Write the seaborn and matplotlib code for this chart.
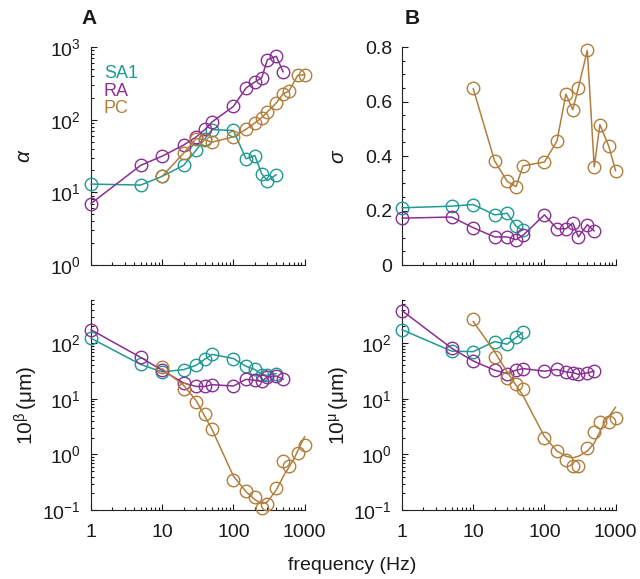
import numpy as np
import matplotlib
matplotlib.use("Agg")
import matplotlib.pyplot as plt
import matplotlib.ticker as mticker
import seaborn as sns
import pandas as pd

# frequencies (Hz) for each afferent class
freq_sa1 = [1, 5, 10, 20, 30, 40, 50, 100, 150, 200, 250, 300, 400]
freq_sa1_b = [1, 5, 10, 20, 30, 40, 50]
freq_ra = [1, 5, 10, 20, 30, 40, 50, 100, 150, 200, 250, 300, 400, 500]
freq_pc = [10, 20, 30, 40, 50, 100, 150, 200, 250, 300, 400, 500, 600, 800, 1000]

# alpha (panel A, top)
alpha_sa1 = [13, 12.6, 16.6, 23.5, 38, 55, 73, 71, 29, 32, 18, 14.5, 17.5]
alpha_ra = [7.0, 23.5, 31.5, 44.7, 57.8, 73.5, 93, 152, 272, 330, 378, 670, 745, 453]
alpha_pc = [16.6, 34.6, 55, 53, 49, 58, 73.6, 90, 107, 128, 170, 228, 245, 408, 415]

# 10^beta (panel A, bottom)
beta_sa1 = [123, 41.5, 30.5, 33.5, 40, 52, 63, 53, 38.6, 33.7, 27.3, 26.5, 28.5]
beta_ra = [175, 55.6, 32.7, 19.3, 16.7, 16.7, 18, 17, 22.4, 21.5, 20.6, 24.8, 25.8, 22.4]
beta_pc = [36.6, 15.2, 8.7, 5.3, 2.85, 0.35, 0.22, 0.175, 0.107, 0.13, 0.25, 0.76, 0.62, 1.07, 1.46]
fit_freq_a = [10, 20, 30, 50, 100, 150, 200, 250, 300, 400, 500, 700, 1000]
beta_pc_fit = [35, 17.5, 9.3, 2.85, 0.41, 0.215, 0.155, 0.13, 0.14, 0.23, 0.4, 0.81, 2.1]

# sigma (panel B, top)
sigma_sa1 = [0.210, 0.216, 0.222, 0.184, 0.190, 0.142, 0.127]
sigma_ra = [0.172, 0.176, 0.137, 0.103, 0.103, 0.093, 0.109, 0.184, 0.133, 0.133, 0.154, 0.103, 0.148, 0.125]
sigma_pc = [0.648, 0.382, 0.307, 0.288, 0.364, 0.378, 0.455, 0.627, 0.570, 0.651, 0.788, 0.360, 0.515, 0.436, 0.345]

# 10^mu (panel B, bottom)
mu_sa1 = [175, 72, 70.5, 107, 96, 127, 156]
mu_ra = [386, 81, 48, 32.7, 28.5, 32.7, 35, 31.4, 33.7, 30.5, 29.7, 27.6, 29.3, 31.4]
mu_pc = [277, 55.6, 23.8, 18.7, 15.2, 2.0, 1.15, 0.81, 0.63, 0.61, 1.32, 2.54, 3.77, 3.86, 4.6]
fit_freq_b = [10, 20, 30, 50, 100, 150, 200, 250, 300, 400, 500, 700, 1000]
mu_pc_fit = [247, 70, 30.5, 11.5, 2.1, 1.15, 0.93, 0.87, 0.93, 1.15, 1.6, 3.8, 7.1]

classes = ["SA1", "RA", "PC"]
colors = {"SA1": "#1f9a94", "RA": "#8a2f94", "PC": "#b27e3b"}

sns.set_theme(style="ticks")
plt.rcParams["font.family"] = ["Liberation Sans", "DejaVu Sans"]
plt.rcParams["mathtext.fontset"] = "custom"
plt.rcParams["mathtext.rm"] = "Liberation Sans"
plt.rcParams["mathtext.it"] = "Liberation Sans:italic"
plt.rcParams["mathtext.bf"] = "Liberation Sans:bold"
plt.rcParams["text.color"] = "#1a1a1a"
plt.rcParams["axes.labelcolor"] = "#1a1a1a"
plt.rcParams["xtick.color"] = "#1a1a1a"
plt.rcParams["ytick.color"] = "#1a1a1a"

fig = plt.figure(figsize=(6.4, 5.79), dpi=100)
ax_a1 = fig.add_axes([0.142, 0.5423, 0.334, 0.3765])
ax_a2 = fig.add_axes([0.142, 0.119, 0.334, 0.363])
ax_b1 = fig.add_axes([0.628, 0.5423, 0.334, 0.3765])
ax_b2 = fig.add_axes([0.628, 0.119, 0.334, 0.363])

mk = dict(marker="o", markersize=9, markerfacecolor="none", markeredgewidth=1.0, linewidth=1.1)


def draw(ax, f, v, name, line=True):
    df = pd.DataFrame({"f": f, "v": v})
    c = colors[name]
    sns.lineplot(data=df, x="f", y="v", ax=ax, color=c, markeredgecolor=c,
                 linestyle="-" if line else "none", clip_on=False, zorder=3, **mk)


def draw_fit(ax, f, v):
    df = pd.DataFrame({"f": f, "v": v})
    sns.lineplot(data=df, x="f", y="v", ax=ax, color=colors["PC"], linewidth=1.1,
                 clip_on=False, zorder=3)


draw(ax_a1, freq_sa1, alpha_sa1, "SA1")
draw(ax_a1, freq_ra, alpha_ra, "RA")
draw(ax_a1, freq_pc, alpha_pc, "PC")

draw(ax_a2, freq_sa1, beta_sa1, "SA1")
draw(ax_a2, freq_ra, beta_ra, "RA")
draw(ax_a2, freq_pc, beta_pc, "PC", line=False)
draw_fit(ax_a2, fit_freq_a, beta_pc_fit)

draw(ax_b1, freq_sa1_b, sigma_sa1, "SA1")
draw(ax_b1, freq_ra, sigma_ra, "RA")
draw(ax_b1, freq_pc, sigma_pc, "PC")

draw(ax_b2, freq_sa1_b, mu_sa1, "SA1")
draw(ax_b2, freq_ra, mu_ra, "RA")
draw(ax_b2, freq_pc, mu_pc, "PC", line=False)
draw_fit(ax_b2, fit_freq_b, mu_pc_fit)

for ax in [ax_a1, ax_a2, ax_b1, ax_b2]:
    ax.set_xscale("log")
    ax.set_xlim(1, 1000)
    ax.xaxis.set_major_locator(mticker.FixedLocator([1, 10, 100, 1000]))
    ax.xaxis.set_minor_locator(mticker.LogLocator(base=10, subs=np.arange(2, 10)))
    ax.xaxis.set_major_formatter(mticker.FixedFormatter(["1", "10", "100", "1000"]))
    ax.tick_params(which="both", direction="in", labelsize=14, width=0.8)
    ax.tick_params(which="major", length=4)
    ax.tick_params(which="minor", length=2)
    ax.tick_params(axis="x", which="major", pad=10)
    ax.tick_params(axis="y", which="major", pad=7)
    ax.set_xlabel("")
    ax.set_ylabel("")
    sns.despine(ax=ax)
    for s in ["left", "bottom"]:
        ax.spines[s].set_linewidth(0.8)
        ax.spines[s].set_color("#222222")

for ax in [ax_a1, ax_b1]:
    ax.tick_params(axis="x", labelbottom=False)

ax_a1.set_yscale("log")
ax_a1.set_ylim(1, 1000)
ax_a1.yaxis.set_major_locator(mticker.LogLocator(base=10, numticks=10))
ax_a1.yaxis.set_minor_locator(mticker.LogLocator(base=10, subs=np.arange(2, 10), numticks=10))
ax_a1.set_ylabel(r"$\alpha$", fontsize=15, labelpad=12)

for ax in [ax_a2, ax_b2]:
    ax.set_yscale("log")
    ax.set_ylim(0.1, 600)
    ax.yaxis.set_major_locator(mticker.FixedLocator([0.1, 1, 10, 100]))
    ax.yaxis.set_minor_locator(mticker.LogLocator(base=10, subs=np.arange(2, 10), numticks=10))
    ax.yaxis.set_major_formatter(mticker.LogFormatterSciNotation())

ax_a2.set_ylabel(r"$\mathregular{10^{\beta}\,(\mu m)}$", fontsize=15, labelpad=2)
ax_b2.set_ylabel(r"$\mathregular{10^{\mu}\,(\mu m)}$", fontsize=15, labelpad=2)

ax_b1.set_ylim(0, 0.8)
ax_b1.yaxis.set_major_locator(mticker.MultipleLocator(0.2))
ax_b1.yaxis.set_minor_locator(mticker.AutoMinorLocator(4))
ax_b1.yaxis.set_major_formatter(mticker.FuncFormatter(lambda v, p: "0" if v == 0 else f"{v:.1f}"))
ax_b1.set_ylabel(r"$\sigma$", fontsize=15, labelpad=12)

# class labels
for i, name in enumerate(classes):
    ax_a1.text(0.06, 0.878 - i * 0.08, name, transform=ax_a1.transAxes, color=colors[name],
               fontsize=13, va="center", ha="left")

fig.text(0.139, 0.968, "A", fontsize=15, fontweight="bold", ha="center", va="center")
fig.text(0.644, 0.968, "B", fontsize=15, fontweight="bold", ha="center", va="center")
fig.text(0.55, 0.024, "frequency (Hz)", fontsize=14, ha="center", va="center")

fig.savefig("out.png", dpi=100)
